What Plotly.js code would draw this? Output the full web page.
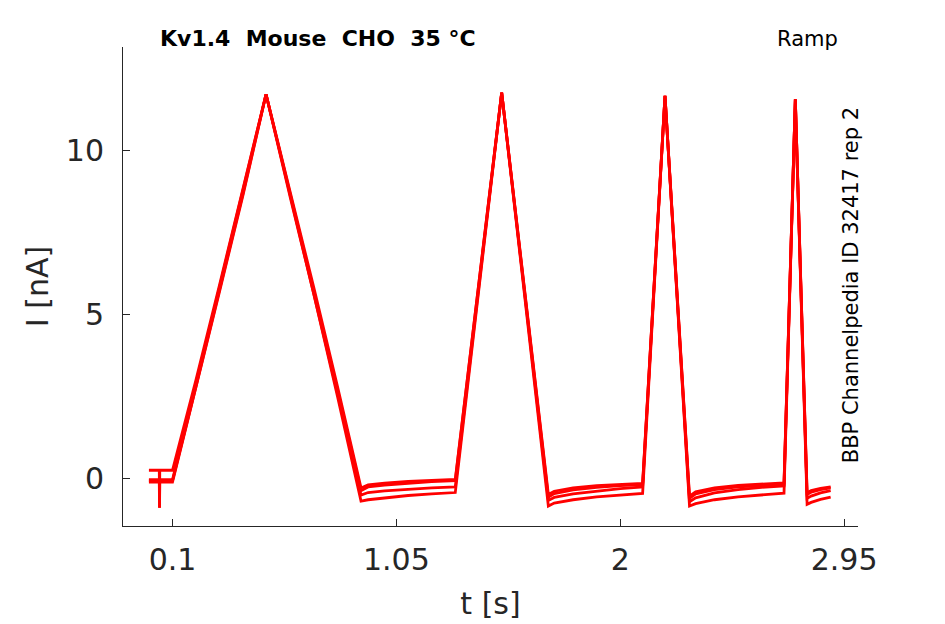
<!DOCTYPE html>
<html>
<head>
<meta charset="utf-8">
<script src="https://cdn.plot.ly/plotly-3.0.1.min.js"></script>
<style>
  html, body { margin: 0; padding: 0; background: #fff; }
  #plotdiv { width: 945px; height: 624px; }
</style>
</head>
<body>
<div id="plotdiv"></div>
<script>
// sample times [s]
var t = [0.0, 0.044, 0.045, 0.046, 0.1, 0.2, 0.3, 0.4, 0.497, 0.6, 0.7, 0.8, 0.9,
         0.93, 1.0, 1.1, 1.2, 1.3, 1.497, 1.695, 1.72, 1.8, 1.9, 2.0, 2.095,
         2.19, 2.294, 2.32, 2.4, 2.5, 2.6, 2.695, 2.743, 2.793, 2.81, 2.85, 2.893];

// current [nA], one array per sweep
var sweep1 = [0.24, 0.24, -0.9, 0.24, 0.24, 3.0, 5.9, 8.8, 11.7, 8.7, 5.8, 2.8, -0.3,
              -0.21, -0.15, -0.1, -0.06, -0.04, 11.75, -0.5, -0.4, -0.3, -0.23, -0.19, -0.16,
              11.65, -0.55, -0.42, -0.3, -0.22, -0.18, -0.15, 11.55, -0.45, -0.38, -0.31, -0.27];
var sweep2 = [-0.05, -0.05, -0.05, -0.05, -0.05, 2.85, 5.8, 8.75, 11.7, 8.65, 5.7, 2.7, -0.38,
              -0.27, -0.21, -0.15, -0.11, -0.08, 11.75, -0.58, -0.47, -0.36, -0.28, -0.23, -0.2,
              11.65, -0.62, -0.48, -0.35, -0.27, -0.22, -0.19, 11.55, -0.5, -0.43, -0.35, -0.3];
var sweep3 = [-0.08, -0.08, -0.08, -0.08, -0.08, 2.8, 5.75, 8.7, 11.7, 8.6, 5.65, 2.6, -0.52,
              -0.44, -0.39, -0.34, -0.3, -0.27, 11.75, -0.68, -0.59, -0.48, -0.39, -0.32, -0.27,
              11.65, -0.72, -0.6, -0.45, -0.35, -0.28, -0.24, 11.55, -0.62, -0.55, -0.45, -0.38];
var sweep4 = [-0.12, -0.12, -0.9, -0.12, -0.12, 2.75, 5.7, 8.65, 11.7, 8.55, 5.6, 2.5, -0.7,
              -0.66, -0.6, -0.53, -0.48, -0.44, 11.75, -0.85, -0.76, -0.66, -0.57, -0.51, -0.47,
              11.65, -0.85, -0.78, -0.66, -0.57, -0.51, -0.46, 11.55, -0.8, -0.74, -0.65, -0.58];

var sweeps = [sweep1, sweep2, sweep3, sweep4];

var xTicks = [0.1, 1.05, 2, 2.95];
var xTickText = ['0.1', '1.05', '2', '2.95'];
var yTicks = [0, 5, 10];
var yTickText = ['0', '5', '10'];

var axisColor = '#262626';
var fontFamily = 'DejaVu Sans, sans-serif';

var data = [];
for (var i = 0; i < sweeps.length; ++i) {
    data.push({
        x: t,
        y: sweeps[i],
        mode: 'lines',
        type: 'scatter',
        line: { color: '#ff0000', width: 2.8 },
        hoverinfo: 'skip',
        showlegend: false
    });
}

var layout = {
    width: 945,
    height: 624,
    margin: { l: 123, r: 87, t: 47, b: 98 },
    paper_bgcolor: '#ffffff',
    plot_bgcolor: '#ffffff',
    font: { family: fontFamily, color: axisColor },
    xaxis: {
        range: [-0.11, 3.009],
        tickvals: xTicks,
        ticktext: xTickText,
        ticks: 'inside',
        ticklen: 7,
        tickwidth: 1,
        tickcolor: axisColor,
        showline: true,
        linecolor: axisColor,
        linewidth: 1,
        showgrid: false,
        zeroline: false,
        tickfont: { size: 30, color: axisColor },
        ticklabelstandoff: 7,
        title: { text: 't [s]', font: { size: 30, color: axisColor }, standoff: 16 }
    },
    yaxis: {
        range: [-1.46, 13.14],
        tickvals: yTicks,
        ticktext: yTickText,
        ticks: 'inside',
        ticklen: 7,
        tickwidth: 1,
        tickcolor: axisColor,
        showline: true,
        linecolor: axisColor,
        linewidth: 1,
        showgrid: false,
        zeroline: false,
        tickfont: { size: 30, color: axisColor },
        ticklabelstandoff: 12,
        title: { text: 'I [nA]', font: { size: 30, color: axisColor }, standoff: 8 }
    },
    annotations: [
        {
            text: '<b>Kv1.4  Mouse  CHO  35 °C</b>',
            xref: 'paper', yref: 'paper',
            x: 0.047, y: 1, xanchor: 'left', yanchor: 'bottom',
            yshift: -6,
            showarrow: false,
            font: { size: 22, color: '#000000', family: fontFamily }
        },
        {
            text: 'Ramp',
            xref: 'paper', yref: 'paper',
            x: 0.975, y: 1, xanchor: 'right', yanchor: 'bottom',
            yshift: -6,
            showarrow: false,
            font: { size: 21, color: '#000000', family: fontFamily }
        },
        {
            text: 'BBP Channelpedia ID 32417 rep 2',
            xref: 'paper', yref: 'paper',
            x: 0.990, y: 0.502, xanchor: 'center', yanchor: 'middle',
            textangle: -90,
            showarrow: false,
            font: { size: 21, color: '#000000', family: fontFamily }
        }
    ]
};

Plotly.newPlot('plotdiv', data, layout, { displayModeBar: false, staticPlot: true });
</script>
</body>
</html>
